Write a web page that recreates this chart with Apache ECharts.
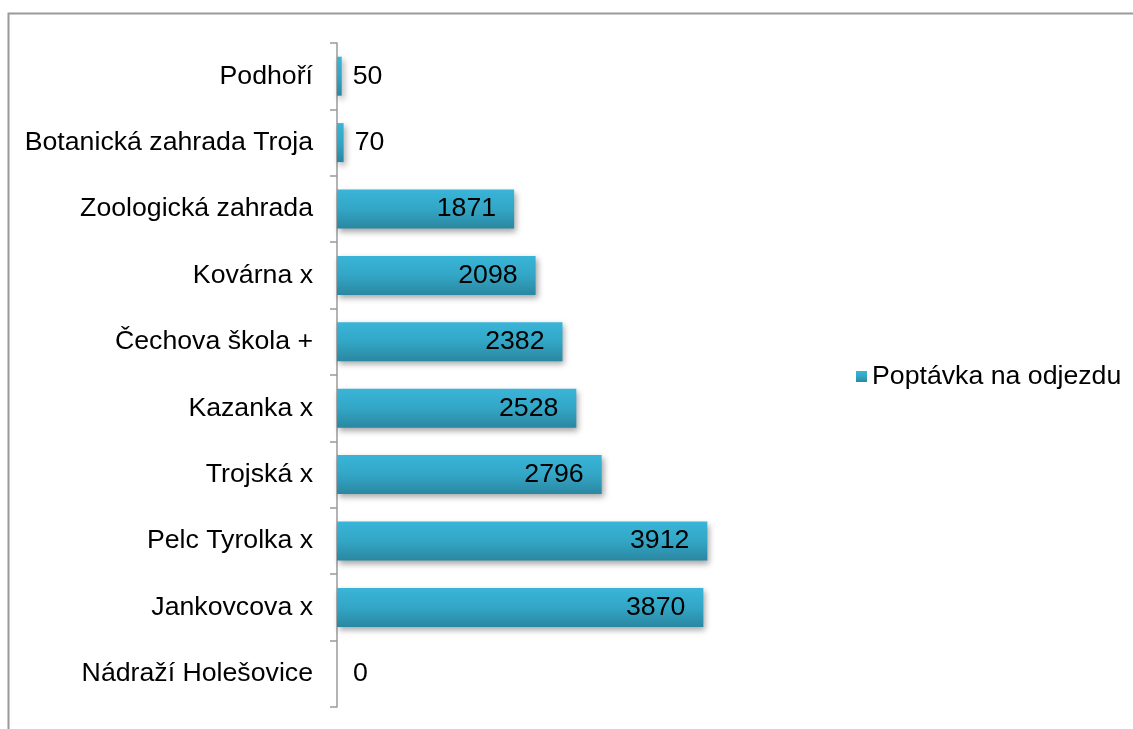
<!DOCTYPE html>
<html>
<head>
<meta charset="utf-8">
<script src="https://cdn.jsdelivr.net/npm/echarts@6/dist/echarts.min.js"></script>
<style>
  html, body { margin: 0; padding: 0; background: #fff; }
  #chart { width: 1133px; height: 729px; }
</style>
</head>
<body>
<div id="chart"></div>
<script>
// categories listed bottom to top
const stops = ['Nádraží Holešovice', 'Jankovcova x', 'Pelc Tyrolka x', 'Trojská x', 'Kazanka x',
  'Čechova škola +', 'Kovárna x', 'Zoologická zahrada', 'Botanická zahrada Troja', 'Podhoří'];
const demand = [0, 3870, 3912, 2796, 2528, 2382, 2098, 1871, 70, 50];
const seriesName = 'Poptávka na odjezdu';

const chart = echarts.init(document.getElementById('chart'));
const font = 'Liberation Sans, Arial, sans-serif';
const fs = 26.7;

const barColor = new echarts.graphic.LinearGradient(0, 0, 0, 1, [
  { offset: 0, color: '#39b5d8' },
  { offset: 0.5, color: '#33a6c6' },
  { offset: 1, color: '#2a87a1' }
]);

const options = {
  backgroundColor: '#fff',
  animation: false,
  textStyle: { fontFamily: font },
  graphic: [{
    type: 'rect',
    shape: { x: 8.5, y: 13.5, width: 1200, height: 800 },
    style: { fill: 'none', stroke: '#9a9a9a', lineWidth: 2 },
    silent: true
  }],
  legend: {
    data: [seriesName],
    left: 851,
    top: 358,
    icon: 'rect',
    itemWidth: 11,
    itemHeight: 11,
    itemGap: 5,
    textStyle: { fontSize: fs, color: '#000', fontFamily: font }
  },
  grid: {
    left: 337,
    top: 43,
    width: 426,
    bottom: 22
  },
  xAxis: {
    type: 'value',
    min: 0,
    max: 4500,
    show: false
  },
  yAxis: {
    type: 'category',
    data: stops,
    axisLine: { lineStyle: { color: '#9a9a9a', width: 1.5 } },
    axisTick: { show: true, length: 7, lineStyle: { color: '#9a9a9a', width: 1.5 } },
    axisLabel: { fontSize: fs, color: '#000', margin: 24, fontFamily: font },
    splitLine: { show: false }
  },
  series: [{
    name: seriesName,
    type: 'bar',
    barWidth: 39,
    itemStyle: {
      color: barColor,
      shadowColor: 'rgba(0,0,0,0.35)',
      shadowBlur: 6,
      shadowOffsetX: 2,
      shadowOffsetY: 3
    },
    label: {
      show: true,
      fontSize: fs,
      color: '#000',
      fontFamily: font
    },
    data: demand.map(v => ({
      value: v,
      label: v < 500
        ? { position: 'right', distance: v === 0 ? 16 : 11 }
        : { position: 'insideRight', distance: 18 }
    }))
  }]
};

chart.setOption(options);
</script>
</body>
</html>
